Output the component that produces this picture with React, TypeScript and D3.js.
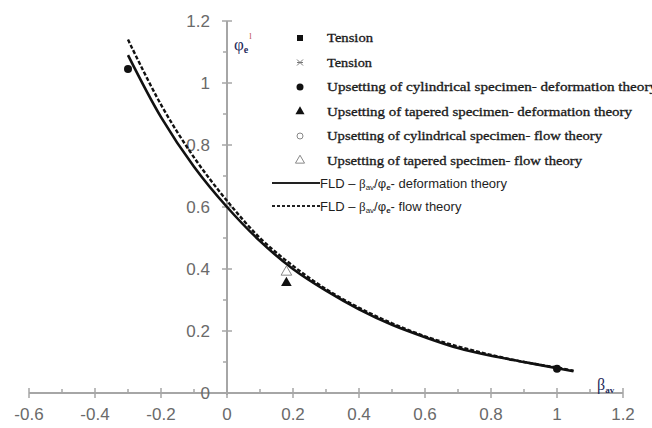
import React, { useRef, useEffect } from "react";
import * as d3 from "d3";

// strain ratio beta_av (x) samples along the forming limit curves
const betaAv = [-0.3, -0.2, -0.1, 0, 0.1, 0.2, 0.3, 0.4, 0.5, 0.6, 0.7, 0.8, 0.9, 1.0, 1.05];
// FLD - deformation theory (solid)
const fldDeformation = [1.09, 0.89, 0.73, 0.6, 0.49, 0.4, 0.33, 0.27, 0.22, 0.18, 0.145, 0.12, 0.1, 0.08, 0.07];
// FLD - flow theory (dashed)
const fldFlow = [1.14, 0.93, 0.76, 0.62, 0.5, 0.41, 0.335, 0.275, 0.225, 0.183, 0.15, 0.123, 0.1, 0.082, 0.072];

// experimental points
const cylDeformation = [
  { x: -0.3, y: 1.045 },
  { x: 1.0, y: 0.078 },
];
const taperedDeformation = [{ x: 0.18, y: 0.355 }];
const taperedFlow = [{ x: 0.18, y: 0.39 }];

const xTicks = [-0.6, -0.4, -0.2, 0, 0.2, 0.4, 0.6, 0.8, 1, 1.2];
const yTicks = [0, 0.2, 0.4, 0.6, 0.8, 1, 1.2];

const legendItems = [
  { kind: "square", label: "Tension" },
  { kind: "cross", label: "Tension" },
  { kind: "circle", label: "Upsetting  of cylindrical specimen- deformation  theory" },
  { kind: "triangle", label: "Upsetting  of tapered specimen- deformation  theory" },
  { kind: "ocircle", label: "Upsetting of cylindrical specimen- flow theory" },
  { kind: "otriangle", label: "Upsetting of tapered specimen- flow theory" },
];
const legendLengths = [46, 45, 330, 305, 275, 255];

export default function App() {
  const ref = useRef<SVGSVGElement>(null);
  const width = 652;
  const height = 428;

  useEffect(() => {
    const svg = d3.select(ref.current);
    svg.selectAll("*").remove();

    const x = d3.scaleLinear().domain([-0.6, 1.2]).range([29, 623]);
    const y = d3.scaleLinear().domain([0, 1.2]).range([393, 21]);

    const axisColor = "#a6a6a6";
    const labelColor = "#6a6a6a";
    const fmt = (d: number) => String(d);

    // x axis line + ticks
    const gx = svg.append("g");
    gx.append("line")
      .attr("x1", x(-0.6)).attr("x2", x(1.2))
      .attr("y1", y(0)).attr("y2", y(0))
      .attr("stroke", axisColor).attr("stroke-width", 2);
    d3.range(-6, 13).forEach((i) => {
      const v = i / 10;
      const major = i % 2 === 0;
      gx.append("line")
        .attr("x1", x(v)).attr("x2", x(v))
        .attr("y1", y(0) - (major ? 5 : 4)).attr("y2", y(0) + (major ? 5 : 0))
        .attr("stroke", axisColor).attr("stroke-width", 1.5);
    });
    gx.selectAll("text.xt")
      .data(xTicks)
      .join("text")
      .attr("x", (d) => x(d))
      .attr("y", 420)
      .attr("text-anchor", "middle")
      .attr("font-family", "Liberation Sans, Arial, sans-serif")
      .attr("font-size", 17)
      .attr("fill", labelColor)
      .text(fmt);

    // y axis line + ticks
    const gy = svg.append("g");
    gy.append("line")
      .attr("x1", x(0)).attr("x2", x(0))
      .attr("y1", y(0) + 2).attr("y2", y(1.2))
      .attr("stroke", axisColor).attr("stroke-width", 2);
    d3.range(0, 13).forEach((i) => {
      const v = i / 10;
      const major = i % 2 === 0;
      gy.append("line")
        .attr("x1", x(0) - (major ? 5 : 4)).attr("x2", x(0) + (major ? 5 : 0))
        .attr("y1", y(v)).attr("y2", y(v))
        .attr("stroke", axisColor).attr("stroke-width", 1.5);
    });
    gy.selectAll("text.yt")
      .data(yTicks)
      .join("text")
      .attr("x", 210)
      .attr("y", (d) => y(d) + 6)
      .attr("text-anchor", "end")
      .attr("font-family", "Liberation Sans, Arial, sans-serif")
      .attr("font-size", 17)
      .attr("fill", labelColor)
      .text(fmt);

    // axis titles
    const yt = svg.append("text")
      .attr("x", 234).attr("y", 50)
      .attr("font-family", "Liberation Serif, serif")
      .attr("fill", "#1f2a5a");
    yt.append("tspan").attr("font-size", 17).text("φ");
    yt.append("tspan").attr("font-size", 10).attr("dy", 3).attr("font-weight", "bold").text("e");
    yt.append("tspan").attr("font-size", 9).attr("dy", -14).attr("dx", 1).attr("fill", "#c05050").text("l");

    const xt = svg.append("text")
      .attr("x", 597).attr("y", 390)
      .attr("font-family", "Liberation Serif, serif")
      .attr("fill", "#1f2a5a");
    xt.append("tspan").attr("font-size", 16).text("β");
    xt.append("tspan").attr("font-size", 9).attr("dy", 3).attr("font-weight", "bold").text("av");

    // curves
    const line = d3
      .line<number>()
      .x((_, i) => x(betaAv[i]))
      .y((d) => y(d))
      .curve(d3.curveCatmullRom);

    svg.append("path")
      .datum(fldFlow)
      .attr("fill", "none")
      .attr("stroke", "#111")
      .attr("stroke-width", 2.4)
      .attr("stroke-dasharray", "4,2")
      .attr("d", line);
    svg.append("path")
      .datum(fldDeformation)
      .attr("fill", "none")
      .attr("stroke", "#111")
      .attr("stroke-width", 2.6)
      .attr("d", line);

    // markers
    const drawMarker = (g: any, kind: string, cx: number, cy: number, s: number) => {
      if (kind === "square") {
        g.append("rect").attr("x", cx - s).attr("y", cy - s).attr("width", 2 * s).attr("height", 2 * s).attr("fill", "#111");
      } else if (kind === "cross") {
        g.append("path")
          .attr("d", `M${cx - s},${cy - s}L${cx + s},${cy + s}M${cx - s},${cy + s}L${cx + s},${cy - s}M${cx - s},${cy}L${cx + s},${cy}`)
          .attr("stroke", "#777").attr("stroke-width", 1);
      } else if (kind === "circle") {
        g.append("circle").attr("cx", cx).attr("cy", cy).attr("r", s + 0.5).attr("fill", "#111");
      } else if (kind === "ocircle") {
        g.append("circle").attr("cx", cx).attr("cy", cy).attr("r", s).attr("fill", "none").attr("stroke", "#888").attr("stroke-width", 1);
      } else if (kind === "triangle") {
        g.append("path").attr("d", d3.symbol(d3.symbolTriangle, 4 * s * s)()).attr("transform", `translate(${cx},${cy})`).attr("fill", "#111");
      } else if (kind === "otriangle") {
        g.append("path").attr("d", d3.symbol(d3.symbolTriangle, 4 * s * s)()).attr("transform", `translate(${cx},${cy})`).attr("fill", "none").attr("stroke", "#888").attr("stroke-width", 1);
      }
    };

    const pts = svg.append("g");
    taperedFlow.forEach((p) => drawMarker(pts, "otriangle", x(p.x), y(p.y), 3.5));
    taperedDeformation.forEach((p) => drawMarker(pts, "triangle", x(p.x), y(p.y), 3.5));
    cylDeformation.forEach((p) => drawMarker(pts, "circle", x(p.x), y(p.y), 3.5));

    // legend
    const lg = svg.append("g");
    legendItems.forEach((d, i) => {
      const ly = 38 + i * 24.5;
      drawMarker(lg, d.kind, 300, ly, 3);
      lg.append("text")
        .attr("x", 327).attr("y", ly + 4)
        .attr("font-family", "Liberation Serif, serif")
        .attr("font-size", 12)
        .attr("fill", "#1a1a1a")
        .attr("stroke", "#1a1a1a")
        .attr("stroke-width", 0.3)
        .attr("textLength", legendLengths[i])
        .attr("lengthAdjust", "spacingAndGlyphs")
        .text(d.label);
    });

    const lineLegend = [
      { dash: null, y: 183, rest: "- deformation theory" },
      { dash: "3,2", y: 206, rest: "- flow theory" },
    ];
    lineLegend.forEach((d) => {
      lg.append("line")
        .attr("x1", 272).attr("x2", 320)
        .attr("y1", d.y).attr("y2", d.y)
        .attr("stroke", "#222").attr("stroke-width", 1.8)
        .attr("stroke-dasharray", d.dash);
      const t = lg.append("text")
        .attr("x", 320).attr("y", d.y + 5)
        .attr("font-family", "Liberation Sans, Arial, sans-serif")
        .attr("font-size", 13)
        .attr("fill", "#1e1e1e");
      t.append("tspan").text("FLD – ");
      t.append("tspan").attr("font-family", "Liberation Serif, serif").text("β");
      t.append("tspan").attr("font-size", 8).attr("dy", 2).text("av");
      t.append("tspan").attr("dy", -2).text("/φ");
      t.append("tspan").attr("font-size", 8).attr("dy", 2).attr("font-weight", "bold").text("e");
      t.append("tspan").attr("dy", -2).text(d.rest);
    });
  }, []);

  return (
    <svg
      ref={ref}
      width={width}
      height={height}
      style={{ position: "absolute", left: 0, top: 0, background: "#fff" }}
    />
  );
}
